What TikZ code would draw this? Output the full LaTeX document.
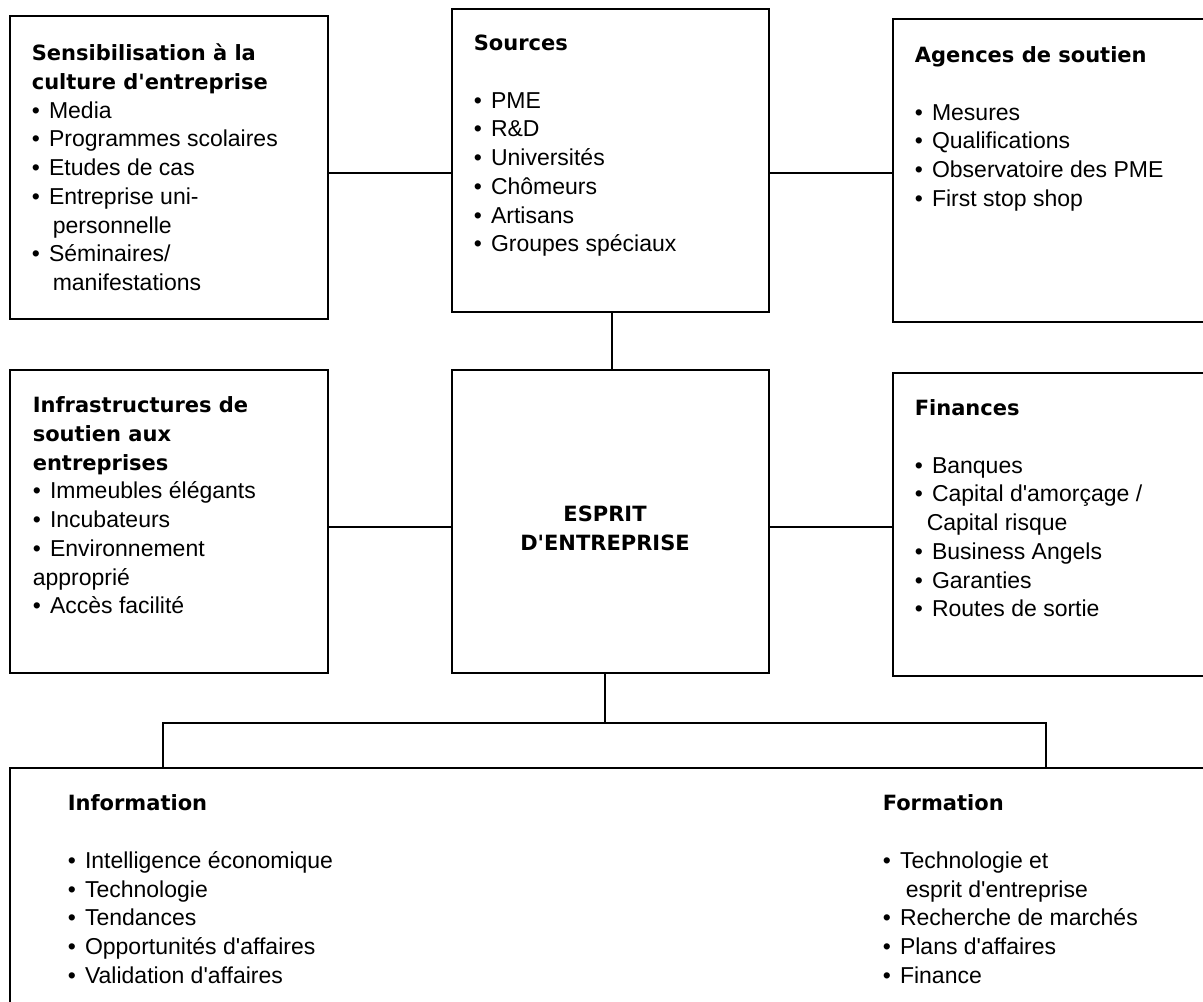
\documentclass[tikz,border=0pt]{standalone}
\usepackage{fontspec}
\setmainfont{Liberation Sans}[Ligatures=TeXOff]
\newfontfamily\headfont{DejaVu Sans}[Ligatures=TeXOff]
\newcommand{\hd}[1]{{\headfont\bfseries\fontsize{21}{28.7}\selectfont\strut #1}}
\newcommand{\itm}{\textbullet\hspace{0.4em}}

\begin{document}
\begin{tikzpicture}[x=1pt,y=-1pt,line width=1.6pt,
  box/.style={draw,inner sep=0pt,minimum width=317pt,minimum height=303pt},
  txt/.style={inner sep=0pt,anchor=north west,align=left,font=\fontsize{23}{28.7}\selectfont}]
\useasboundingbox (0,0) rectangle (1203,1002);
\clip (0,0) rectangle (1203,1002);
% boxes
\node[box,minimum width=318pt] (sensib) at (169,167.5) {};
\node[box] (sources) at (610.5,160.5) {};
\node[box,minimum width=327pt] (agences) at (1056.5,170.5) {};
\node[box,minimum width=318pt] (infra) at (169,521.5) {};
\node[box] (esprit) at (610.5,521.5) {};
\node[box,minimum width=327pt] (finances) at (1056.5,524.5) {};
\node[box,minimum width=1210pt,minimum height=252pt] (infoform) at (615,894) {};
% texts
\node[txt] (sensib-t) at (31,40) {\hd{Sensibilisation à la}\\\hd{culture d'entreprise}\\\itm Media\\\itm Programmes scolaires\\\itm Etudes de cas\\\itm Entreprise uni-\\\hspace{21pt}personnelle\\\itm Séminaires/\\\hspace{21pt}manifestations};
\node[txt] (sources-t) at (473,30) {\hd{Sources}\\[28.7pt]\itm PME\\\itm R\&D\\\itm Universités\\\itm Chômeurs\\\itm Artisans\\\itm Groupes spéciaux};
\node[txt] (agences-t) at (914,42) {\hd{Agences de soutien}\\[28.7pt]\itm Mesures\\\itm Qualifications\\\itm Observatoire des PME\\\itm First stop shop};
\node[txt] (infra-t) at (32,392) {\hd{Infrastructures de}\\\hd{soutien aux}\\\hd{entreprises}\\\itm Immeubles élégants\\\itm Incubateurs\\\itm Environnement\\approprié\\\itm Accès facilité};
\node[align=center,inner sep=0pt,font=\fontsize{21}{28.7}\selectfont] (esprit-t) at (605,530) {\hd{ESPRIT}\\\hd{D'ENTREPRISE}};
\node[txt] (finances-t) at (914,395) {\hd{Finances}\\[28.7pt]\itm Banques\\\itm Capital d'amorçage /\\\hspace{12pt}Capital risque\\\itm Business Angels\\\itm Garanties\\\itm Routes de sortie};
\node[txt] (info-t) at (67,790) {\hd{Information}\\[28.7pt]\itm Intelligence économique\\\itm Technologie\\\itm Tendances\\\itm Opportunités d'affaires\\\itm Validation d'affaires};
\node[txt] (form-t) at (882,790) {\hd{Formation}\\[28.7pt]\itm Technologie et\\\hspace{23pt}esprit d'entreprise\\\itm Recherche de marchés\\\itm Plans d'affaires\\\itm Finance};
% connectors
\draw (sensib.east |- 0,173) -- (sources.west |- 0,173);
\draw (sources.east |- 0,173) -- (agences.west |- 0,173);
\draw (sources.south -| 612,0) -- (esprit.north -| 612,0);
\draw (infra.east |- 0,527) -- (esprit.west |- 0,527);
\draw (esprit.east |- 0,527) -- (finances.west |- 0,527);
\coordinate (fork) at (605,723);
\draw (esprit.south -| fork) -- (fork);
\draw (infoform.north -| 163,0) |- (fork) -| (infoform.north -| 1046,0);
\end{tikzpicture}
\end{document}
